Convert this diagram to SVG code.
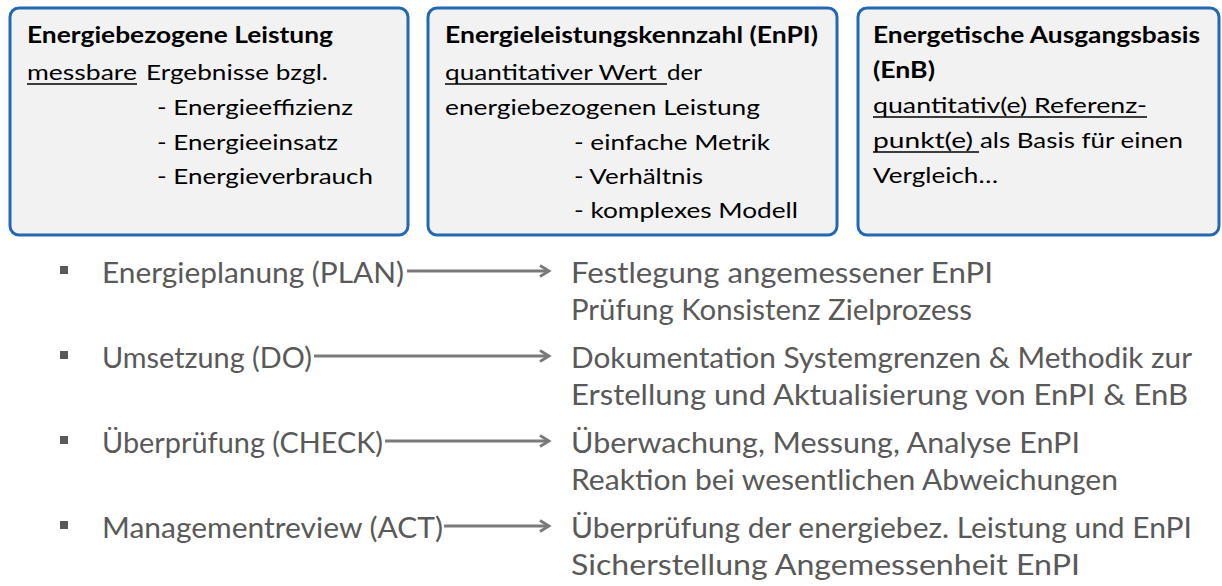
<svg xmlns="http://www.w3.org/2000/svg" width="1222" height="586" viewBox="0 0 1222 586">
<style>
.box{fill:#F2F2F2;stroke:#2468B2;stroke-width:3}
.t{font-family:Lato,"Open Sans","Liberation Sans",sans-serif;font-size:22px;fill:#000}
.b{font-weight:bold}
.ul{stroke:#000;stroke-width:1.3}
.l{font-family:Lato,"Open Sans","Liberation Sans",sans-serif;font-size:28px;fill:#595959}
.arr{stroke:#7A7A7A;stroke-width:3;fill:none;marker-end:url(#ah)}
.bul{fill:#595959}
</style>
<defs>
<marker id="ah" markerWidth="14" markerHeight="14" refX="11" refY="7" orient="auto" markerUnits="userSpaceOnUse">
<path d="M2,1.5 L11,7 L2,12.5" fill="none" stroke="#7A7A7A" stroke-width="2.8"/>
</marker>
</defs>
<rect width="1222" height="586" fill="#fff"/>
<g id="box-leistung">
<rect class="box" x="10" y="8" width="398" height="227" rx="9"/>
<text class="t b" x="27" y="43" textLength="306" lengthAdjust="spacingAndGlyphs">Energiebezogene Leistung</text>
<text class="t" x="27" y="80" textLength="110" lengthAdjust="spacingAndGlyphs">messbare</text>
<line class="ul" x1="27" y1="84" x2="137" y2="84"/>
<text class="t" x="146" y="80" textLength="182" lengthAdjust="spacingAndGlyphs">Ergebnisse bzgl.</text>
<text class="t" x="157" y="115" textLength="196" lengthAdjust="spacingAndGlyphs">- Energieeffizienz</text>
<text class="t" x="157" y="150" textLength="181" lengthAdjust="spacingAndGlyphs">- Energieeinsatz</text>
<text class="t" x="157" y="184" textLength="216" lengthAdjust="spacingAndGlyphs">- Energieverbrauch</text>
</g>
<g id="box-enpi">
<rect class="box" x="428" y="8" width="409" height="227" rx="9"/>
<text class="t b" x="445" y="43" textLength="373" lengthAdjust="spacingAndGlyphs">Energieleistungskennzahl (EnPI)</text>
<text class="t" x="445" y="80" textLength="212" lengthAdjust="spacingAndGlyphs">quantitativer Wert</text>
<line class="ul" x1="445" y1="84" x2="667" y2="84"/>
<text class="t" x="667" y="80" textLength="35" lengthAdjust="spacingAndGlyphs">der</text>
<text class="t" x="445" y="115" textLength="315" lengthAdjust="spacingAndGlyphs">energiebezogenen Leistung</text>
<text class="t" x="574" y="150" textLength="196" lengthAdjust="spacingAndGlyphs">- einfache Metrik</text>
<text class="t" x="574" y="184" textLength="129" lengthAdjust="spacingAndGlyphs">- Verhältnis</text>
<text class="t" x="574" y="218" textLength="224" lengthAdjust="spacingAndGlyphs">- komplexes Modell</text>
</g>
<g id="box-enb">
<rect class="box" x="858" y="8" width="361" height="227" rx="9"/>
<text class="t b" x="873" y="43" textLength="327" lengthAdjust="spacingAndGlyphs">Energetische Ausgangsbasis</text>
<text class="t b" x="873" y="78" textLength="62" lengthAdjust="spacingAndGlyphs">(EnB)</text>
<text class="t" x="873" y="113" textLength="274" lengthAdjust="spacingAndGlyphs">quantitativ(e) Referenz-</text>
<line class="ul" x1="873" y1="117" x2="1147" y2="117"/>
<text class="t" x="873" y="148" textLength="100" lengthAdjust="spacingAndGlyphs">punkt(e)</text>
<line class="ul" x1="873" y1="152" x2="979" y2="152"/>
<text class="t" x="980" y="148" textLength="203" lengthAdjust="spacingAndGlyphs">als Basis für einen</text>
<text class="t" x="873" y="183" textLength="125" lengthAdjust="spacingAndGlyphs">Vergleich…</text>
</g>
<g id="plan">
<rect class="bul" x="60" y="266" width="8" height="8"/>
<text class="l" x="102" y="283" textLength="302" lengthAdjust="spacingAndGlyphs">Energieplanung (PLAN)</text>
<text class="l" x="571" y="283" textLength="422" lengthAdjust="spacingAndGlyphs">Festlegung angemessener EnPI</text>
<text class="l" x="571" y="320" textLength="401" lengthAdjust="spacingAndGlyphs">Prüfung Konsistenz Zielprozess</text>
</g>
<g id="do">
<rect class="bul" x="60" y="351" width="8" height="8"/>
<text class="l" x="102" y="368" textLength="210" lengthAdjust="spacingAndGlyphs">Umsetzung (DO)</text>
<text class="l" x="571" y="368" textLength="621" lengthAdjust="spacingAndGlyphs">Dokumentation Systemgrenzen &amp; Methodik zur</text>
<text class="l" x="571" y="405" textLength="617" lengthAdjust="spacingAndGlyphs">Erstellung und Aktualisierung von EnPI &amp; EnB</text>
</g>
<g id="check">
<rect class="bul" x="60" y="436" width="8" height="8"/>
<text class="l" x="102" y="453" textLength="281" lengthAdjust="spacingAndGlyphs">Überprüfung (CHECK)</text>
<text class="l" x="571" y="453" textLength="509" lengthAdjust="spacingAndGlyphs">Überwachung, Messung, Analyse EnPI</text>
<text class="l" x="571" y="490" textLength="547" lengthAdjust="spacingAndGlyphs">Reaktion bei wesentlichen Abweichungen</text>
</g>
<g id="act">
<rect class="bul" x="60" y="521" width="8" height="8"/>
<text class="l" x="102" y="538" textLength="341" lengthAdjust="spacingAndGlyphs">Managementreview (ACT)</text>
<text class="l" x="571" y="538" textLength="621" lengthAdjust="spacingAndGlyphs">Überprüfung der energiebez. Leistung und EnPI</text>
<text class="l" x="571" y="575" textLength="509" lengthAdjust="spacingAndGlyphs">Sicherstellung Angemessenheit EnPI</text>
</g>
<g id="connectors">
<line class="arr" x1="407" y1="271" x2="549" y2="271"/>
<line class="arr" x1="314" y1="356" x2="549" y2="356"/>
<line class="arr" x1="385" y1="441" x2="549" y2="441"/>
<line class="arr" x1="444" y1="526" x2="549" y2="526"/>
</g>
</svg>
